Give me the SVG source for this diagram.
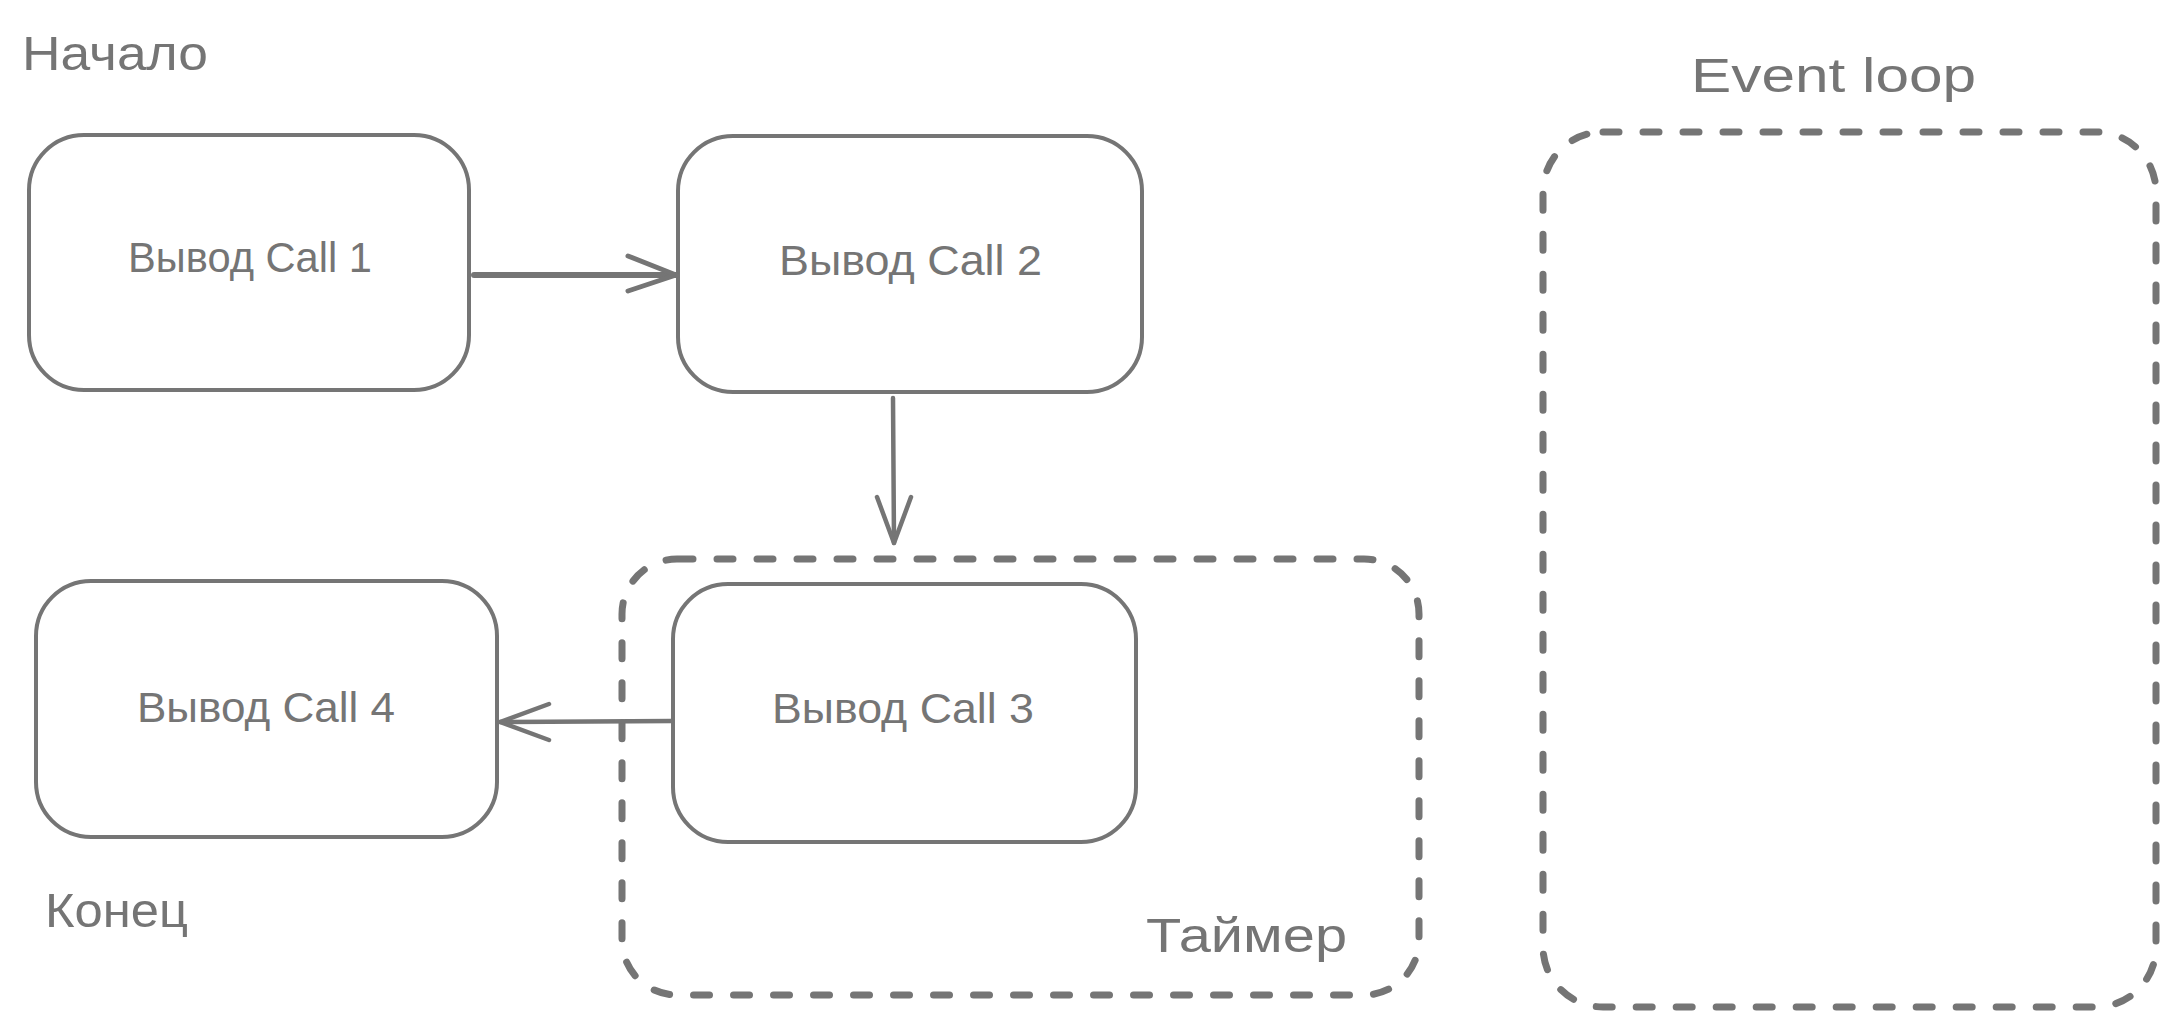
<svg xmlns="http://www.w3.org/2000/svg" width="2174" height="1029" viewBox="0 0 2174 1029">
<style>
.box{fill:none;stroke:#757575;stroke-width:4;}
.dash{fill:none;stroke:#757575;stroke-width:7;stroke-dasharray:16 24;stroke-linecap:round;}
.conn{fill:none;stroke:#757575;stroke-linecap:round;stroke-linejoin:round;}
.lbl{font-family:"Liberation Sans",Arial,sans-serif;fill:#757575;}
.node{font-size:42px;}
.title{font-size:48px;}
</style>
<rect width="2174" height="1029" fill="#ffffff"/>
<g id="timer-group">
<rect class="dash" x="622" y="559" width="797" height="436" rx="55" ry="55"/>
<text class="lbl title" x="1146" y="952" textLength="201" lengthAdjust="spacingAndGlyphs">Таймер</text>
</g>
<g id="event-loop">
<rect class="dash" x="1543" y="132" width="613" height="875" rx="60" ry="60"/>
<text class="lbl title" x="1691" y="92" textLength="285" lengthAdjust="spacingAndGlyphs">Event loop</text>
</g>
<g id="label-start">
<text class="lbl title" x="22" y="70" textLength="186" lengthAdjust="spacingAndGlyphs">Начало</text>
</g>
<g id="label-end">
<text class="lbl title" x="45" y="927" textLength="143" lengthAdjust="spacingAndGlyphs">Конец</text>
</g>
<g id="call1">
<rect class="box" x="29" y="135" width="440" height="255" rx="55" ry="55"/>
<text class="lbl node" x="128" y="272" textLength="244" lengthAdjust="spacingAndGlyphs">Вывод Call 1</text>
</g>
<g id="call2">
<rect class="box" x="678" y="136" width="464" height="256" rx="55" ry="55"/>
<text class="lbl node" x="779" y="275" textLength="263" lengthAdjust="spacingAndGlyphs">Вывод Call 2</text>
</g>
<g id="call3">
<rect class="box" x="673" y="584" width="463" height="258" rx="55" ry="55"/>
<text class="lbl node" x="772" y="723" textLength="262" lengthAdjust="spacingAndGlyphs">Вывод Call 3</text>
</g>
<g id="call4">
<rect class="box" x="36" y="581" width="461" height="256" rx="55" ry="55"/>
<text class="lbl node" x="137" y="722" textLength="258" lengthAdjust="spacingAndGlyphs">Вывод Call 4</text>
</g>
<g id="connectors">
<path class="conn" stroke-width="6" d="M474,275 L676,275"/>
<path class="conn" stroke-width="5" d="M628,256 L676,275 L628,291"/>
<path class="conn" stroke-width="4.5" d="M893,398 L894,543"/>
<path class="conn" stroke-width="4.5" d="M877,497 L894,543 L911,497"/>
<path class="conn" stroke-width="4.5" d="M672,721 L500,722"/>
<path class="conn" stroke-width="4.5" d="M549,704 L500,722 L549,740"/>
</g>
</svg>
